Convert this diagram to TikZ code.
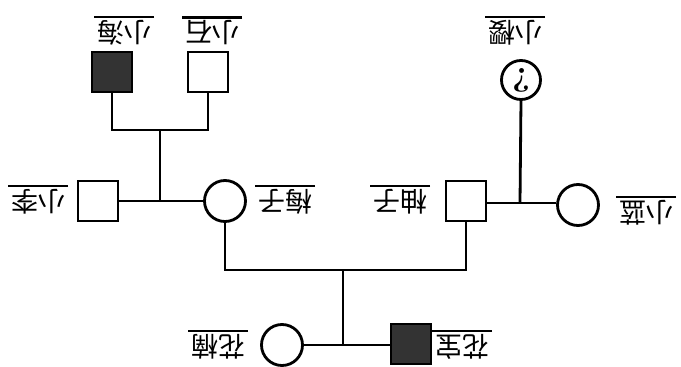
\documentclass[tikz,border=0pt]{standalone}
\usepackage{fontspec}
\newfontfamily\cjk{Noto Sans CJK SC}
\tikzset{
  lw/.style={line width=2.8pt},
  male/.style={draw, lw, minimum size=40pt, inner sep=0pt, fill=white},
  malea/.style={male, fill=black!80},
  female/.style={draw, lw, circle, minimum size=41pt, inner sep=0pt, fill=white},
  lab/.style={rotate=180, font=\cjk\fontsize{27}{30}\selectfont, inner xsep=3pt, inner ysep=3pt},
  bar/.style={line width=2.2pt},
  con/.style={lw}
}
\begin{document}
\begin{tikzpicture}[x=1pt,y=-1pt]
\useasboundingbox (0,0) rectangle (681,367);
% coordinates
\coordinate (jl) at (112,130);
\coordinate (jr) at (208,130);
\coordinate (jtop) at (160,130);
\coordinate (jm) at (160,201);
\coordinate (jy) at (520,203);
\coordinate (ml) at (225,270);
\coordinate (mr) at (466,270);
\coordinate (mm) at (343,270);
\coordinate (ms) at (343,345);
% individuals
\node[malea] (hai) at (112,72) {};
\node[male] (shi) at (208,72) {};
\node[female, minimum size=39pt] (ying) at (521,80) {};
\node[rotate=180, font=\bfseries\fontsize{34}{36}\selectfont] (q) at (ying) {?};
\node[male] (li) at (98,201) {};
\node[female] (mei) at (225,201) {};
\node[male] (you) at (466,201) {};
\node[female] (lan) at (578,205) {};
\node[female] (nan) at (282,345) {};
\node[malea] (bao) at (411,344) {};
% connectors
\draw[con] (hai.south) -- (jl) -- (jr) -- (shi.south);
\draw[con] (jtop) -- (jm);
\draw[con] (li.east) -- (mei.west);
\draw[con] (you.east |- jy) -- (lan.west |- jy);
\draw[con] (jy) -- (ying.south);
\draw[con] (mei.south) -- (ml) -- (mr) -- (you.south);
\draw[con] (mm) -- (ms);
\draw[con] (nan.east) -- (bao.west |- nan.east);
% labels
\node[lab] (lhai) at (124,33) {小海};
\node[lab] (lshi) at (212,33) {小石};
\node[lab] (lying) at (515,33) {小樱};
\node[lab] (lli) at (38,202) {小李};
\node[lab] (lmei) at (285,202) {梅子};
\node[lab] (lyou) at (400,202) {柚子};
\node[lab] (llan) at (646,213) {小蓝};
\node[lab] (lnan) at (218,347) {花楠};
\node[lab] (lbao) at (462,347) {花宝};
\foreach \n in {lhai,lshi,lying,lli,lmei,lyou,llan,lnan,lbao}
  \draw[bar] (\n.south west) -- (\n.south east);
\end{tikzpicture}
\end{document}
